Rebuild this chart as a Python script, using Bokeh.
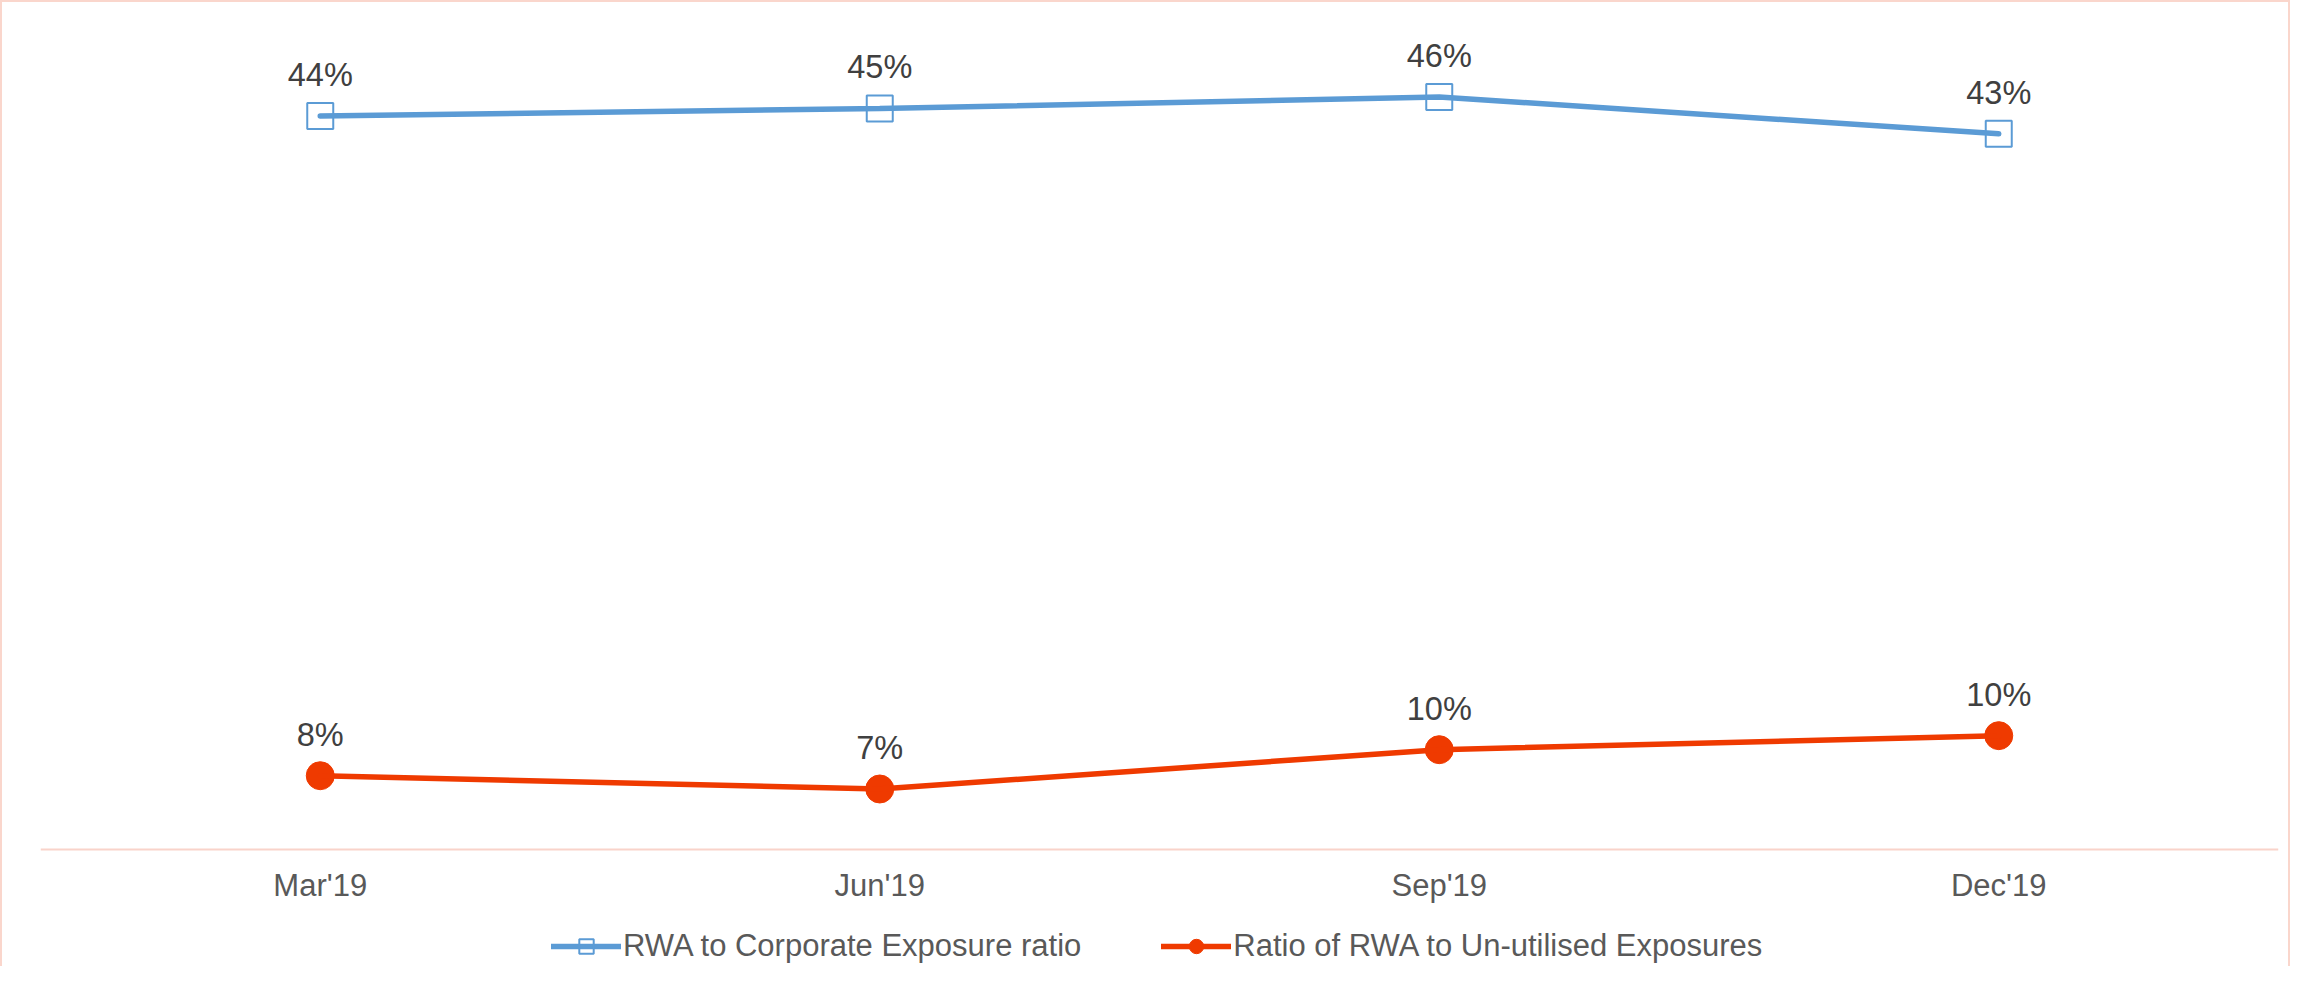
from bokeh.plotting import figure
from bokeh.models import ColumnDataSource, Legend, LegendItem, Range1d, FactorRange
from bokeh.core.properties import value
from bokeh.embed import file_html
from bokeh.resources import INLINE

# ---- data ----
quarters = ["Mar'19", "Jun'19", "Sep'19", "Dec'19"]
rwa_corporate = [0.4447, 0.4488, 0.4551, 0.4349]
rwa_unutilised = [0.0822, 0.0749, 0.0965, 0.1042]
series_names = ["RWA to Corporate Exposure ratio", "Ratio of RWA to Un-utilised Exposures"]
axis_base = 0.04165


def pct(vals):
    return [f"{round(v * 100):d}%" for v in vals]


blue = "#5B9BD5"
red = "#EF3A00"
font = "Liberation Sans"

src_b = ColumnDataSource(dict(x=quarters, y=rwa_corporate, lab=pct(rwa_corporate)))
src_r = ColumnDataSource(dict(x=quarters, y=rwa_unutilised, lab=pct(rwa_unutilised)))

p = figure(
    x_range=FactorRange(*quarters),
    y_range=Range1d(-0.02373, 0.50154),
    width=2290, height=966,
    min_border_left=38, min_border_right=14, min_border_top=10, min_border_bottom=0,
    y_axis_location=None,
    output_backend="svg", toolbar_location=None,
    styles={"border-top": "2px solid #FAD6CC", "border-left": "2px solid #FAD6CC",
            "border-right": "2px solid #FAD6CC"},
)
p.outline_line_color = None
p.xgrid.visible = False
p.ygrid.visible = False

ax = p.xaxis[0]
ax.fixed_location = axis_base
ax.axis_line_color = "#F9D3CA"
ax.axis_line_width = 2
ax.major_tick_line_color = None
ax.minor_tick_line_color = None
ax.major_tick_out = 0
ax.major_tick_in = 0
ax.major_label_standoff = 18
ax.major_label_text_font = font
ax.major_label_text_font_size = "31px"
ax.major_label_text_color = "#595959"

sq = p.scatter("x", "y", source=src_b, marker="square", size=26, line_color=blue,
               line_width=2, fill_alpha=0)
lb = p.line("x", "y", source=src_b, line_color=blue, line_width=5.5, line_cap="round")
ci = p.scatter("x", "y", source=src_r, marker="circle", size=28, line_color=red,
               fill_color=red)
lr = p.line("x", "y", source=src_r, line_color=red, line_width=5.5, line_cap="round")

for s in (src_b, src_r):
    p.text("x", "y", text="lab", source=s, text_align="center", text_baseline="alphabetic",
           y_offset=-41, text_font=value(font), text_font_size="32.5px", text_color="#404040")

legend = Legend(
    items=[LegendItem(label=series_names[0], renderers=[lb, sq]),
           LegendItem(label=series_names[1], renderers=[lr, ci])],
    orientation="horizontal",
    location=(511, 4),
    glyph_width=70, glyph_height=36, label_standoff=2, spacing=80,
    padding=0, margin=0,
    label_text_font=font, label_text_font_size="31px", label_text_color="#595959",
    border_line_color=None, background_fill_alpha=0,
)
p.add_layout(legend, "center")

open("out.html", "w").write(file_html(p, INLINE))
